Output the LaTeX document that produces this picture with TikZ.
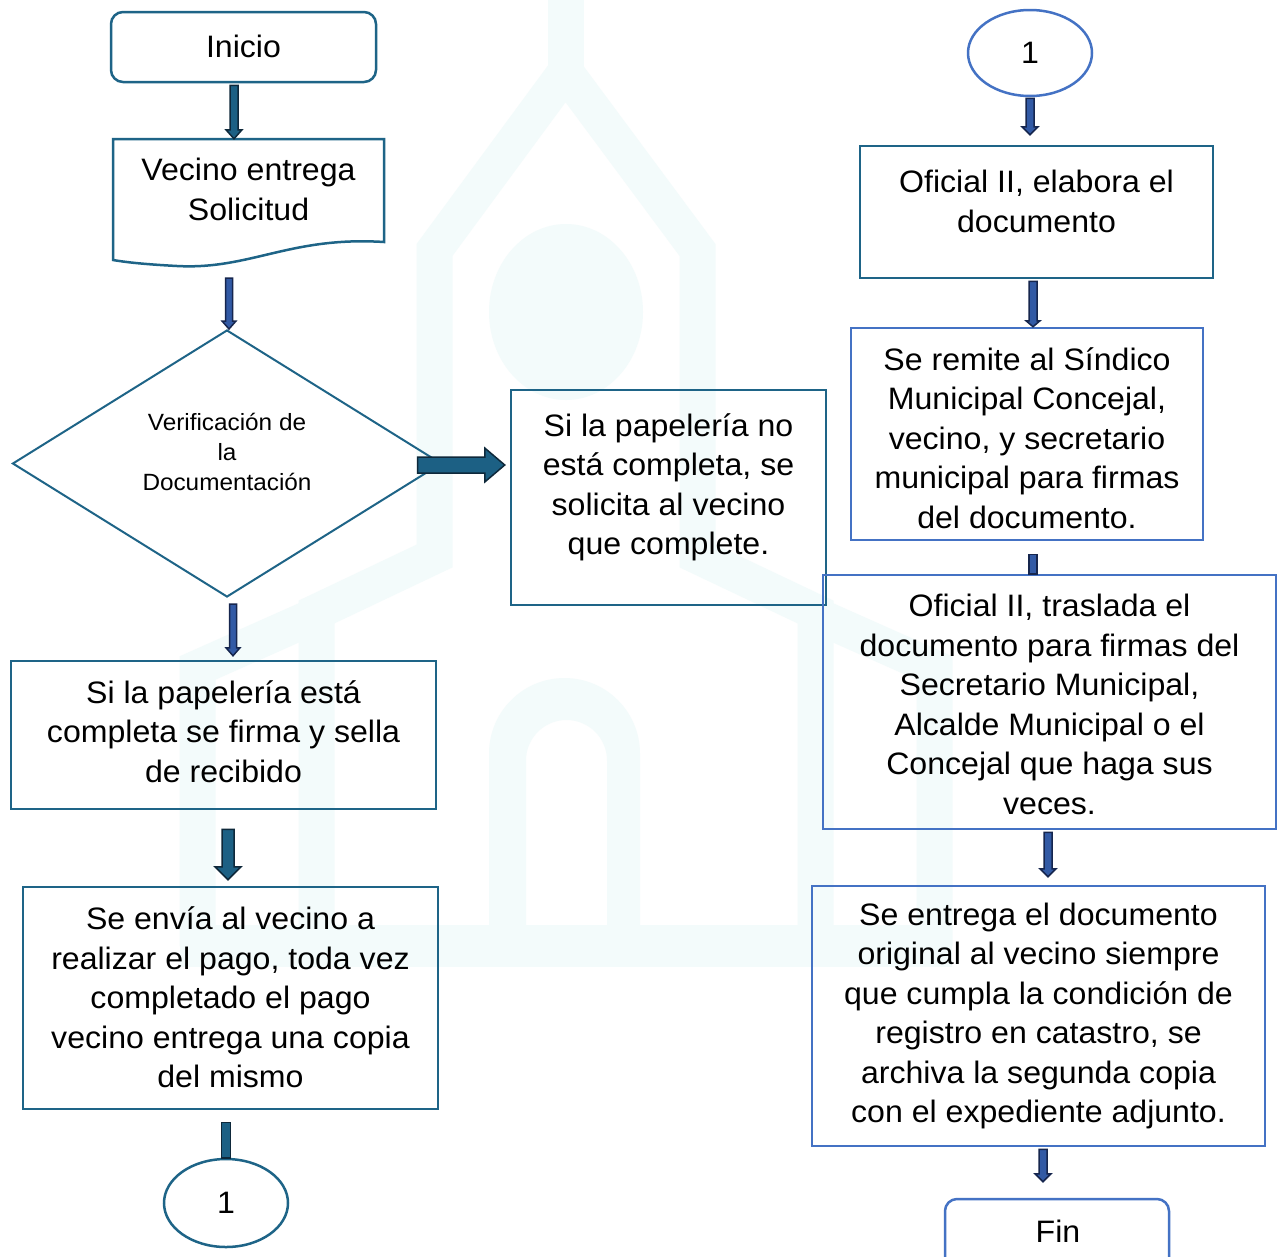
\documentclass[tikz,border=0pt]{standalone}
\usepackage{fontspec}
\setmainfont{Liberation Sans}[FakeStretch=1.035]
\usetikzlibrary{calc,shapes.geometric}
\definecolor{teal1}{RGB}{30,100,135}
\definecolor{blue1}{RGB}{68,114,196}
\definecolor{wm}{RGB}{243,251,251}
\definecolor{arrteal}{RGB}{28,96,132}
\definecolor{arrdark}{RGB}{14,40,58}
\definecolor{arrnavy}{RGB}{50,90,165}
\definecolor{navydark}{RGB}{22,38,78}
\newcommand\varw[6]{%
  \filldraw[#1] let \p1=#2, \p2=#3 in
  (\x1-#4,\y1) -- (\x1+#4,\y1) -- (\x1+#4,\y2+#6) -- (\x1+#5,\y2+#6) -- (\x1,\y2)
  -- (\x1-#5,\y2+#6) -- (\x1-#4,\y2+#6) -- cycle;}
\newcommand\harw[6]{%
  \filldraw[#1] let \p1=#2, \p2=#3 in
  (\x1,\y1+#4) -- (\x2-#6,\y1+#4) -- (\x2-#6,\y1+#5) -- (\x2,\y1)
  -- (\x2-#6,\y1-#5) -- (\x2-#6,\y1-#4) -- (\x1,\y1-#4) -- cycle;}
\newcommand\vbarw[4]{%
  \filldraw[#1] let \p1=#2, \p2=#3 in (\x1-#4,\y1) rectangle (\x1+#4,\y2);}
\begin{document}
\begin{tikzpicture}[x=1pt,y=-1pt,
  tbox/.style={draw=teal1, line width=2.5pt, inner sep=0pt},
  bbox/.style={draw=blue1, line width=2.5pt, inner sep=0pt},
  txt/.style={font=\fontsize{31}{39.5}\selectfont, align=center, inner sep=0pt},
  stxt/.style={font=\fontsize{23.5}{30}\selectfont, align=center, inner sep=0pt},
  arrT/.style={fill=arrteal, draw=arrdark, line width=1.5pt, line join=miter},
  arrN/.style={fill=arrnavy, draw=navydark, line width=1.5pt, line join=miter},
  wml/.style={draw=wm, line width=36pt, line join=miter}]
\useasboundingbox (0,0) rectangle (1282,1256);
\fill[white] (0,0) rectangle (1282,1256);
% watermark
\fill[wm] (180,925) rectangle (952,967);
\draw[wml] (565.5,0) -- (565.5,80);
\draw[wml] (316.5,946) -- (316.5,612) -- (434.5,556) -- (434.5,250) -- (565.5,72) -- (697.5,250) -- (697.5,556) -- (815.5,612) -- (815.5,946);
\draw[wml] (197.5,946) -- (197.5,668) -- (316.5,615);
\draw[wml] (934.5,946) -- (934.5,668) -- (815.5,615);
\fill[wm] (566,312) ellipse [x radius=77, y radius=88];
\fill[wm, even odd rule] (489,925) -- (489,753.5) arc (180:360:75.5) -- (640,925) -- cycle
  (526,925) -- (526,760.5) arc (180:360:40.5) -- (607,925) -- cycle;
% left column
\node[tbox, rounded corners=12pt, minimum width=265pt, minimum height=70pt] (inicio) at (243.5,47) {};
\node[txt] (tinicio) at (243.5,46) {Inicio};
\node[minimum width=271pt, minimum height=127pt, inner sep=0pt] (vecino) at (248.5,202.5) {};
\draw[draw=teal1, line width=2.5pt] (113,139) -- (384,139) -- (384,242)
  .. controls (290,236) and (250,270) .. (177,266)
  .. controls (140,264) and (125,262) .. (113,260) -- cycle;
\node[txt] (tvecino) at (248.5,189.5) {Vecino entrega\\Solicitud};
\node[draw=teal1, line width=2pt, diamond, minimum width=429pt, minimum height=267pt, inner sep=0pt] (diam) at (227,463.5) {};
\node[stxt] (tdiam) at (227,452) {Verificación de\\la\\Documentación};
\node[tbox, minimum width=315pt, minimum height=215pt] (nocomp) at (668.5,497.5) {};
\node[txt] (tnocomp) at (668.5,487.5) {Si la papelería no\\está completa, se\\solicita al vecino\\que complete.};
\node[tbox, minimum width=425pt, minimum height=148pt] (siesta) at (223.5,735) {};
\node[txt] (tsiesta) at (223.5,731.5) {Si la papelería está\\completa se firma y sella\\de recibido};
\node[tbox, minimum width=415pt, minimum height=222pt] (envia) at (230.5,998) {};
\node[txt] (tenvia) at (230.5,997.5) {Se envía al vecino a\\realizar el pago, toda vez\\completado el pago\\vecino entrega una copia\\del mismo};
\node[draw=teal1, line width=2.5pt, ellipse, minimum width=124pt, minimum height=88pt, inner sep=0pt] (c1L) at (226,1203) {};
\node[txt] (tc1L) at (226,1203) {1};
% right column
\node[draw=blue1, line width=2.5pt, ellipse, minimum width=124pt, minimum height=86pt, inner sep=0pt] (c1R) at (1030,53) {};
\node[txt] (tc1R) at (1030,53) {1};
\node[tbox, minimum width=353pt, minimum height=132pt] (elabora) at (1036.5,212) {};
\node[txt] (telabora) at (1036.5,201.5) {Oficial II, elabora el\\documento};
\node[bbox, minimum width=352pt, minimum height=212pt] (remite) at (1027,434) {};
\node[txt] (tremite) at (1027,438) {Se remite al Síndico\\Municipal Concejal,\\vecino, y secretario\\municipal para firmas\\del documento.};
\node[bbox, minimum width=453pt, minimum height=254pt] (traslada) at (1049.5,702) {};
\node[txt] (ttraslada) at (1049.5,704.5) {Oficial II, traslada el\\documento para firmas del\\Secretario Municipal,\\Alcalde Municipal o el\\Concejal que haga sus\\veces.};
\node[bbox, minimum width=453pt, minimum height=260pt] (entrega) at (1038.5,1016) {};
\node[txt] (tentrega) at (1038.5,1016) {Se entrega el documento\\original al vecino siempre\\que cumpla la condición de\\registro en catastro, se\\archiva la segunda copia\\con el expediente adjunto.};
\node[bbox, rounded corners=12pt, minimum width=224pt, minimum height=72pt] (fin) at (1057,1235) {};
\node[txt] (tfin) at (1058,1231) {Fin};
% connectors
\varw{arrT}{($(inicio.south)+(-9.5,2)$)}{(vecino.north)}{4pt}{8pt}{9pt}
\varw{arrN}{($(vecino.south)+(-19.5,12)$)}{(diam.north)}{3.5pt}{7pt}{8pt}
\varw{arrN}{($(diam.south)+(6,6)$)}{($(siesta.north)+(0,-4)$)}{3.5pt}{7pt}{8pt}
\varw{arrT}{($(siesta.south)+(4.5,19)$)}{($(envia.north)+(0,-6)$)}{6pt}{13pt}{13pt}
\vbarw{arrT}{($(envia.south)+(-4.5,12)$)}{(c1L.north)}{4.5pt}
\harw{arrT}{($(diam.east)+(-25,1.5)$)}{($(nocomp.west)+(-5,0)$)}{8pt}{17pt}{20pt}
\varw{arrN}{($(c1R.south)+(0,1)$)}{($(elabora.north)+(0,-10)$)}{4pt}{8pt}{8pt}
\varw{arrN}{($(elabora.south)+(-3.5,2)$)}{(remite.north)}{4pt}{7pt}{6pt}
\vbarw{arrN}{($(remite.south)+(6,13)$)}{(traslada.north)}{4pt}
\varw{arrN}{($(traslada.south)+(-1.5,2)$)}{($(entrega.north)+(0,-8)$)}{4pt}{8pt}{8pt}
\varw{arrN}{($(entrega.south)+(4.5,2)$)}{($(fin.north)+(0,-16)$)}{4pt}{8pt}{8pt}
\end{tikzpicture}
\end{document}
